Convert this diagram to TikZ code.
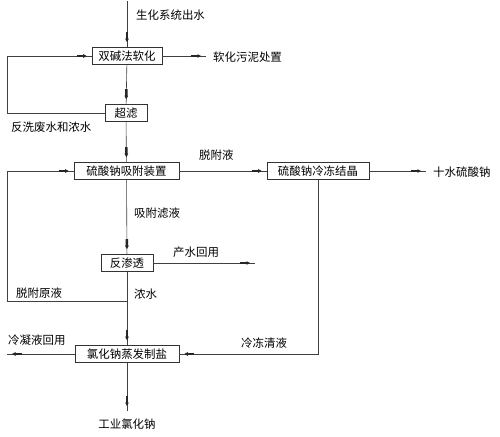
\documentclass[tikz,border=0pt]{standalone}
\usepackage{fontspec}
\usepackage{tikz}
\usetikzlibrary{positioning,calc,decorations.markings}
\newfontfamily\cjk{Noto Sans CJK SC}
\tikzstyle{unit} = [draw=black!80, line width=0.6bp, rectangle, minimum height=17bp, inner xsep=4bp, inner ysep=0bp]
\tikzstyle{flow} = [draw=black!75, line width=0.6bp, postaction={decorate}, decoration={markings,
    mark=at position -5bp with {\fill[black!85] (-10bp,-1.2bp) rectangle (-3bp,1.2bp);
                                \fill[black!85] (0,0) -- (-3.5bp,1.9bp) -- (-3.5bp,-1.9bp) -- cycle;}}]
\tikzstyle{lbl} = [inner sep=0bp, anchor=west]

\begin{document}
\begin{tikzpicture}[x=1bp, y=-1bp, font=\cjk\fontsize{11.5}{13}\selectfont]
    \useasboundingbox (0,0) rectangle (500,437);

    % Process units
    \node[unit, minimum width=70bp]  (ds)   at (127,56)   {双碱法软化};
    \node[unit, minimum width=42bp]  (uf)   at (126,113)  {超滤};
    \node[unit, minimum width=105bp] (ads)  at (126.5,171) {硫酸钠吸附装置};
    \node[unit, minimum width=102bp] (fc)   at (318,171)  {硫酸钠冷冻结晶};
    \node[unit, minimum width=52bp]  (ro)   at (127,263)  {反渗透};
    \node[unit, minimum width=104bp] (nacl) at (127,354)  {氯化钠蒸发制盐};

    % Free ends
    \coordinate (feed)   at (127,1);
    \coordinate (sludge) at (206,56);
    \coordinate (deca)   at (426,171);
    \coordinate (prod)   at (255,263);
    \coordinate (cond)   at (7,354);
    \coordinate (salt)   at (127,411);
    \coordinate (j1)     at (127,301);

    % Main line
    \draw[flow] (feed) -- (ds);
    \draw[flow] (ds) -- (uf);
    \draw[flow] (uf) -- (ads);
    \draw[flow] (ads) -- (ro);
    \draw[flow] (ro) -- (nacl);
    \draw[flow] (nacl) -- (salt);

    % Side streams
    \draw[flow] (ds) -- (sludge);
    \draw[flow] (ads) -- (fc);
    \draw[flow] (fc) -- (deca);
    \draw[flow] (ro) -- (prod);
    \draw[flow] (nacl) -- (cond);
    \draw[flow] (fc.south) |- (nacl.east);

    % Return loops
    \draw[flow] (uf.west) -- (7,113) |- (ds.west);
    \draw[flow] (j1) -- (7,301) |- (ads.west);

    % Labels
    \node[lbl] (t1)  at (136,15)  {生化系统出水};
    \node[lbl] (t2)  at (213,57)  {软化污泥处置};
    \node[lbl] (t3)  at (11,127)  {反洗废水和浓水};
    \node[lbl] (t4)  at (199,155) {脱附液};
    \node[lbl] (t5)  at (433,172) {十水硫酸钠};
    \node[lbl] (t6)  at (134,213) {吸附滤液};
    \node[lbl] (t7)  at (173,252) {产水回用};
    \node[lbl] (t8)  at (16,293)  {脱附原液};
    \node[lbl] (t9)  at (134,294) {浓水};
    \node[lbl] (t10) at (8,340)   {冷凝液回用};
    \node[lbl] (t11) at (241,343) {冷冻清液};
    \node (t12) at (127,424) {工业氯化钠};
\end{tikzpicture}
\end{document}
